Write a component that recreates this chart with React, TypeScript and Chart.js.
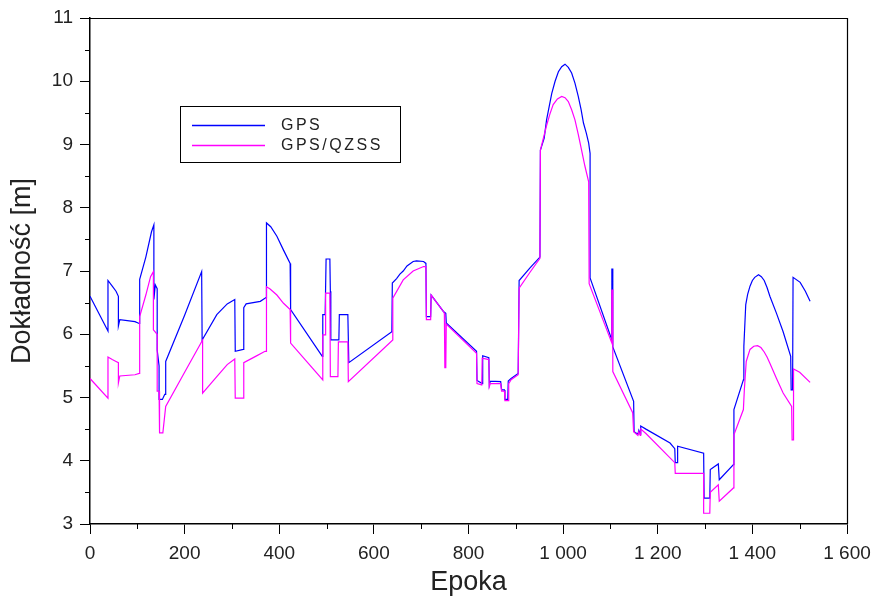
import React, { useEffect, useRef } from "react";
import { Chart, registerables } from "chart.js";

Chart.register(...registerables);

const seriesLabels = ["GPS", "GPS/QZSS"];
const seriesColors = ["#0000ff", "#ff00ff"];
const xTitle = "Epoka";
const yTitle = "Dokładność [m]";
const xTicks = [0, 200, 400, 600, 800, 1000, 1200, 1400, 1600];
const yTicks = [3, 4, 5, 6, 7, 8, 9, 10, 11];

const gpsEpoch = [
  0, 38, 38, 47, 55, 60, 60, 63, 95, 104, 105, 118, 130, 135, 135, 138, 142, 142, 146, 146,
  153, 158, 160, 160, 200, 236, 237, 268, 290, 306, 307, 324, 325, 330, 360, 372, 373, 382, 395, 409, 423,
  424, 491, 492, 497, 499, 507, 508, 509, 526, 527, 545, 547, 638, 639, 648, 655, 662, 670, 683, 690, 705, 710, 711,
  720, 721, 747, 752, 753, 817, 818, 829, 830, 843, 844, 846, 868, 870, 876, 877, 883, 884, 890, 905,
  907, 930, 951, 952, 960, 965, 976, 983, 990, 997, 1004, 1011, 1018, 1025, 1032, 1038, 1043, 1049, 1054, 1057, 1057,
  1103, 1103, 1105, 1105, 1149,
  1150, 1158, 1160, 1163, 1164, 1175, 1226, 1236, 1237, 1241, 1242, 1297, 1298, 1310, 1311, 1328, 1330, 1360, 1361, 1381,
  1382, 1386, 1390, 1395, 1400, 1405, 1413, 1419, 1425, 1431, 1437, 1451, 1465, 1481, 1482, 1485, 1486, 1501, 1512, 1522,
];
const gpsValue = [
  6.6, 6.05, 6.85, 6.76, 6.68, 6.6, 6.13, 6.23, 6.2, 6.17, 6.87, 7.22, 7.62, 7.73, 6.55, 6.78, 6.72, 5.75, 5.5, 4.97,
  4.97, 5.05, 5.05, 5.57, 6.3, 6.99, 5.91, 6.31, 6.48, 6.55, 5.73, 5.76, 6.42, 6.48, 6.52, 6.58, 7.76, 7.7, 7.55, 7.33, 7.12,
  6.39, 5.65, 6.31, 6.31, 7.19, 7.19, 6.68, 5.91, 5.91, 6.31, 6.31, 5.55, 6.04, 6.81, 6.88, 6.95, 7.0, 7.08, 7.15, 7.16, 7.15, 7.12, 6.28,
  6.28, 6.62, 6.36, 6.33, 6.18, 5.73, 5.27, 5.22, 5.66, 5.63, 5.2, 5.26, 5.25, 5.12, 5.12, 4.97, 4.97, 5.26, 5.3, 5.38,
  6.85, 7.05, 7.22, 8.91, 9.1, 9.39, 9.81, 10.0, 10.15, 10.23, 10.27, 10.22, 10.13, 9.97, 9.76, 9.55, 9.34, 9.18, 9.02, 8.86, 6.89,
  5.91, 7.03, 7.03, 5.8, 4.94,
  4.46, 4.42, 4.48, 4.42, 4.55, 4.5, 4.28, 4.19, 3.97, 3.97, 4.23, 4.12, 3.41, 3.41, 3.86, 3.95, 3.7, 3.94, 4.81, 5.28,
  5.81, 6.47, 6.63, 6.76, 6.85, 6.9, 6.94, 6.91, 6.85, 6.74, 6.6, 6.33, 6.04, 5.65, 5.12, 5.12, 6.9, 6.82, 6.68, 6.52,
];

const qzssEpoch = [
  0, 38, 38, 47, 55, 60, 60, 63, 95, 104, 105, 118, 128, 134, 134, 142, 142, 146, 147, 154,
  160, 200, 238, 238, 268, 290, 306, 307, 324, 325, 350, 370, 372, 373, 380, 395, 409, 423, 424, 492, 492,
  497, 498, 507, 508, 524, 525, 545, 546, 640, 640, 662, 683, 705, 710, 711, 720, 721, 747, 749, 750,
  752, 753, 817, 818, 828, 829, 843, 844, 846, 868, 870, 876, 877, 884, 885, 890, 905, 907, 930, 951,
  952, 965, 972, 979, 988, 997, 1004, 1011, 1018, 1025, 1032, 1039, 1046, 1054, 1055,
  1103, 1103, 1105, 1105, 1147, 1149, 1158, 1160, 1163, 1164, 1175,
  1236, 1237, 1297, 1297, 1310, 1311, 1328, 1330, 1360, 1361, 1381, 1383, 1387, 1395, 1403, 1411, 1418, 1425, 1431, 1437, 1451, 1465, 1483,
  1484, 1486, 1487, 1500, 1522,
];
const qzssValue = [
  5.3, 4.99, 5.64, 5.6, 5.57, 5.55, 5.23, 5.34, 5.36, 5.38, 6.28, 6.62, 6.91, 6.99, 6.07, 6.0, 5.1, 5.1, 4.44, 4.44,
  4.86, 5.4, 5.91, 5.07, 5.33, 5.52, 5.61, 4.99, 4.99, 5.55, 5.65, 5.73, 5.73, 6.75, 6.72, 6.62, 6.49, 6.39, 5.86, 5.28, 5.99,
  5.99, 6.65, 6.65, 5.33, 5.33, 5.88, 5.88, 5.25, 5.91, 6.57, 6.86, 7.0, 7.07, 7.07, 6.23, 6.23, 6.62, 6.36, 6.33, 5.47,
  5.47, 6.16, 5.7, 5.22, 5.2, 5.62, 5.6, 5.17, 5.22, 5.22, 5.1, 5.1, 4.95, 4.95, 5.22, 5.28, 5.36, 6.73, 6.98, 7.2,
  8.91, 9.3, 9.48, 9.63, 9.72, 9.76, 9.74, 9.68, 9.55, 9.39, 9.16, 8.91, 8.66, 8.41, 6.8,
  5.86, 6.7, 6.7, 5.41, 4.76, 4.46, 4.4, 4.46, 4.4, 4.5, 4.43,
  3.97, 3.8, 3.8, 3.17, 3.17, 3.5, 3.62, 3.36, 3.57, 4.41, 4.81, 5.12, 5.57, 5.76, 5.81, 5.82, 5.79, 5.72, 5.64, 5.54, 5.3, 5.07, 4.86,
  4.33, 4.33, 5.45, 5.4, 5.24,
];

const FONT = "'Liberation Sans', Arial, sans-serif";

function fmtTick(v: number): string {
  if (v >= 1000) {
    const th = Math.floor(v / 1000);
    const rest = String(v % 1000).padStart(3, "0");
    return th + " " + rest;
  }
  return String(v);
}

const framePlugin = {
  id: "frameAndLegend",
  afterDraw(chart: any) {
    const { ctx, chartArea, scales } = chart;
    const xs = scales.x;
    const ys = scales.y;
    ctx.save();
    ctx.strokeStyle = "#000";
    ctx.lineWidth = 1.2;
    ctx.beginPath();
    ctx.moveTo(chartArea.left, chartArea.top + 0.5);
    ctx.lineTo(chartArea.right, chartArea.top + 0.5);
    ctx.moveTo(chartArea.right + 0.5, chartArea.top);
    ctx.lineTo(chartArea.right + 0.5, chartArea.bottom);
    ctx.stroke();
    ctx.lineWidth = 1;
    ctx.beginPath();
    for (let i = 0; i < xTicks.length - 1; i++) {
      const v = (xTicks[i] + xTicks[i + 1]) / 2;
      const px = Math.round(xs.getPixelForValue(v)) + 0.5;
      ctx.moveTo(px, chartArea.bottom);
      ctx.lineTo(px, chartArea.bottom + 5);
    }
    for (let i = 0; i < yTicks.length - 1; i++) {
      const v = (yTicks[i] + yTicks[i + 1]) / 2;
      const py = Math.round(ys.getPixelForValue(v)) + 0.5;
      ctx.moveTo(chartArea.left - 5, py);
      ctx.lineTo(chartArea.left, py);
    }
    ctx.stroke();

    const bx = 180.5, by = 106.5, bw = 220, bh = 56;
    ctx.fillStyle = "#fff";
    ctx.fillRect(bx, by, bw, bh);
    ctx.strokeStyle = "#000";
    ctx.lineWidth = 1;
    ctx.strokeRect(bx, by, bw, bh);
    const ds = chart.data.datasets;
    const rows = [125, 145];
    ctx.font = "16px " + FONT;
    ctx.textBaseline = "middle";
    ctx.textAlign = "left";
    try { (ctx as any).letterSpacing = "2.5px"; } catch (e) {}
    for (let i = 0; i < ds.length; i++) {
      ctx.strokeStyle = ds[i].borderColor;
      ctx.lineWidth = 1.3;
      ctx.beginPath();
      ctx.moveTo(192, rows[i] + 0.5);
      ctx.lineTo(265, rows[i] + 0.5);
      ctx.stroke();
      ctx.fillStyle = "#222";
      ctx.fillText(ds[i].label, 281, rows[i] + 1);
    }
    try { (ctx as any).letterSpacing = "0px"; } catch (e) {}
    ctx.restore();
  },
};

export default function App() {
  const ref = useRef<HTMLCanvasElement | null>(null);
  useEffect(() => {
    document.body.style.margin = "0";
    const canvas = ref.current;
    if (!canvas) return;
    const chart = new Chart(canvas, {
      type: "line",
      data: {
        datasets: [
          {
            label: seriesLabels[0],
            data: gpsEpoch.map((x, i) => ({ x, y: gpsValue[i] })),
            borderColor: seriesColors[0],
            backgroundColor: seriesColors[0],
            borderWidth: 1.2,
            pointRadius: 0,
            tension: 0,
            fill: false,
            order: 2,
          },
          {
            label: seriesLabels[1],
            data: qzssEpoch.map((x, i) => ({ x, y: qzssValue[i] })),
            borderColor: seriesColors[1],
            backgroundColor: seriesColors[1],
            borderWidth: 1.2,
            pointRadius: 0,
            tension: 0,
            fill: false,
            order: 1,
          },
        ],
      },
      options: {
        animation: false,
        responsive: false,
        maintainAspectRatio: false,
        devicePixelRatio: 1,
        layout: { padding: { top: 18, right: 27, left: 0, bottom: 0 } },
        plugins: {
          legend: { display: false },
          tooltip: { enabled: false },
        },
        scales: {
          x: {
            type: "linear",
            min: 0,
            max: 1600,
            afterFit: (s: any) => { s.height = 73; s.paddingLeft = 0; s.paddingRight = 0; },
            afterBuildTicks: (s: any) => { s.ticks = xTicks.map((v) => ({ value: v })); },
            ticks: {
              callback: (v: any) => fmtTick(Number(v)),
              font: { family: FONT, size: 19 },
              color: "#222",
              padding: 8,
              maxRotation: 0,
              autoSkip: false,
            },
            grid: {
              drawOnChartArea: false,
              drawTicks: true,
              tickLength: 10,
              tickColor: "#000",
              tickWidth: 1,
            },
            border: { display: true, color: "#000", width: 1.5 },
            title: {
              display: true,
              text: xTitle,
              font: { family: FONT, size: 27, lineHeight: 1 },
              color: "#222",
              padding: { top: 0, bottom: 1 },
            },
          },
          y: {
            type: "linear",
            min: 3,
            max: 11,
            afterFit: (s: any) => { s.width = 90; s.paddingTop = 0; s.paddingBottom = 0; },
            afterBuildTicks: (s: any) => { s.ticks = yTicks.map((v) => ({ value: v })); },
            ticks: {
              font: { family: FONT, size: 19 },
              color: "#222",
              padding: 7,
              autoSkip: false,
            },
            grid: {
              drawOnChartArea: false,
              drawTicks: true,
              tickLength: 10,
              tickColor: "#000",
              tickWidth: 1,
            },
            border: { display: true, color: "#000", width: 1.5 },
            title: {
              display: true,
              text: yTitle,
              font: { family: FONT, size: 27, lineHeight: 1 },
              color: "#222",
              padding: { top: 9, bottom: 0 },
            },
          },
        },
      },
      plugins: [framePlugin],
    } as any);
    return () => chart.destroy();
  }, []);
  return (
    <div style={{ width: 874, height: 597, background: "#fff" }}>
      <canvas ref={ref} width={874} height={597} style={{ display: "block", width: 874, height: 597 }} />
    </div>
  );
}
